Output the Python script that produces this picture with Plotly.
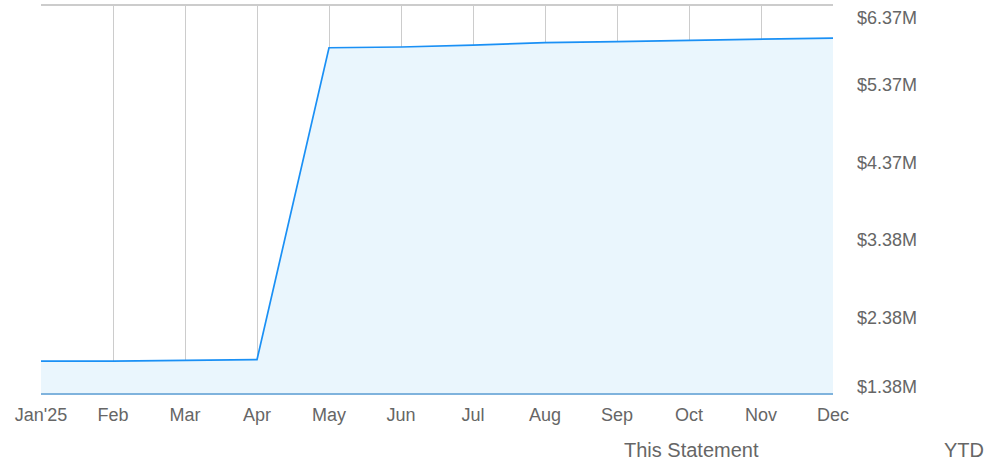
import plotly.graph_objects as go

months = ["Jan'25", "Feb", "Mar", "Apr", "May", "Jun", "Jul", "Aug", "Sep", "Oct", "Nov", "Dec"]
values_m = [1.79, 1.79, 1.80, 1.81, 5.82, 5.83, 5.855, 5.886, 5.90, 5.916, 5.93, 5.945]
y_min = 1.38
y_max = 6.37
y_tick_vals = [1.38, 2.378, 3.376, 4.374, 5.372, 6.37]
y_tick_text = ["$1.38M", "$2.38M", "$3.38M", "$4.37M", "$5.37M", "$6.37M"]
legend_labels = ["This Statement", "YTD"]

FONT = "Liberation Sans, Arial, sans-serif"
GREY = "#666666"

plot_l, plot_r, plot_t, plot_b = 41, 833, 5, 393
W, H = 1005, 460

fig = go.Figure()
fig.add_trace(go.Scatter(
    x=months, y=values_m, mode="lines",
    line=dict(color="#1a90f5", width=1.7),
    fill="tozeroy", fillcolor="#eaf6fd",
    hoverinfo="skip", showlegend=False,
))

annotations = []
n = len(y_tick_vals)
for i, (v, t) in enumerate(zip(y_tick_vals, y_tick_text)):
    if i == 0:
        shift = 6.5
    elif i == n - 1:
        shift = -12.5
    else:
        shift = -2.5
    annotations.append(dict(
        x=1, xref="paper", y=v, yref="y", text=t, showarrow=False,
        xanchor="left", yanchor="middle", xshift=22, yshift=shift,
        font=dict(family=FONT, size=18, color=GREY),
    ))

for label, cx in zip(legend_labels, [691, 964]):
    annotations.append(dict(
        x=(cx - plot_l) / (plot_r - plot_l), xref="paper", xanchor="center",
        y=-(450 - plot_b) / (plot_b - plot_t), yref="paper", yanchor="middle",
        text=label, showarrow=False,
        font=dict(family=FONT, size=20, color=GREY),
    ))

fig.update_layout(
    width=W, height=H,
    margin=dict(l=plot_l, r=W - plot_r, t=plot_t, b=H - plot_b),
    paper_bgcolor="white", plot_bgcolor="white",
    showlegend=False,
    xaxis=dict(
        type="category", range=[0, 11], showgrid=True, gridcolor="#cccccc", gridwidth=1,
        showline=True, linecolor="#7fb3dd", linewidth=2, zeroline=False,
        ticks="", tickfont=dict(family=FONT, size=18, color=GREY), ticklabelstandoff=4,
        fixedrange=True,
    ),
    yaxis=dict(
        range=[y_min, y_max], showgrid=False, zeroline=False, showticklabels=False,
        ticks="", fixedrange=True,
    ),
    shapes=[
        dict(type="line", xref="paper", yref="paper", x0=0, x1=1, y0=1, y1=1,
             line=dict(color="#cccccc", width=2)),
    ],
    annotations=annotations,
)

fig.write_html("out.html", config={"displayModeBar": False},
               post_script="document.body.style.margin='0';document.body.style.overflow='hidden';")
